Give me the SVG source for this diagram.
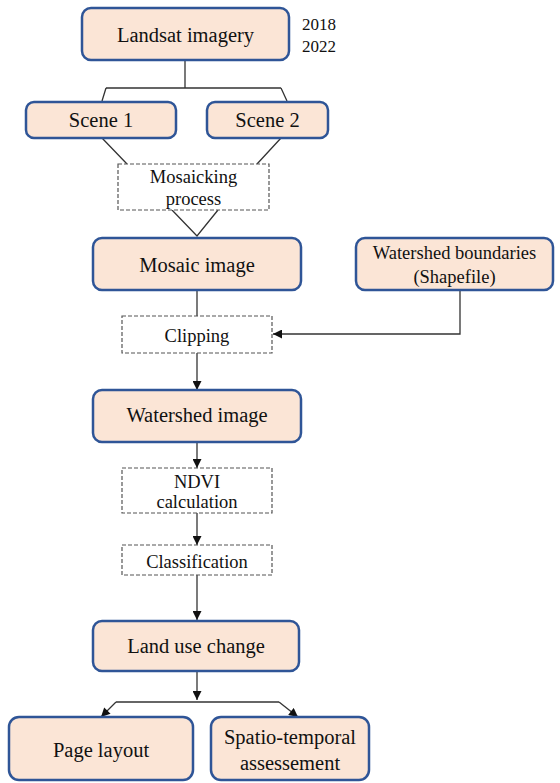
<svg xmlns="http://www.w3.org/2000/svg" width="560" height="783" viewBox="0 0 560 783">
<style>
.box{fill:#FBE5D6;stroke:#2F5597;stroke-width:2.5}
.dash{fill:#FFFFFF;stroke:#555555;stroke-width:1.2;stroke-dasharray:4 2}
text{font-family:"Liberation Serif","Times New Roman",serif;fill:#111111;text-anchor:middle}
.t{font-size:20.5px}
.s{font-size:18.5px}
.y{font-size:17px;text-anchor:start}
.ln{fill:none;stroke:#333333;stroke-width:1.3}
</style>
<defs>
<marker id="ah" viewBox="0 0 10 10" refX="10" refY="5" markerWidth="10" markerHeight="9" markerUnits="userSpaceOnUse" orient="auto">
<path d="M0,0 L10,5 L0,10 z" fill="#111111"/>
</marker>
</defs>
<rect width="560" height="783" fill="#FFFFFF"/>
<g id="connectors">
<path class="ln" d="M185,60 V88 M106,88 H281 M106,88 L102,101 M281,88 L287,101"/>
<path class="ln" d="M102,138 L127,164 M281,138 L257,164"/>
<path class="ln" d="M172,210 L197,236 L218,210"/>
<path class="ln" d="M197,290 V316"/>
<path class="ln" d="M460,290 V334 H273" marker-end="url(#ah)"/>
<path class="ln" d="M197,353 V390" marker-end="url(#ah)"/>
<path class="ln" d="M197,442 V468" marker-end="url(#ah)"/>
<path class="ln" d="M197,513 V545" marker-end="url(#ah)"/>
<path class="ln" d="M197,575 V620" marker-end="url(#ah)"/>
<path class="ln" d="M197,671 V700" marker-end="url(#ah)"/>
<path class="ln" d="M116,702 H279"/>
<path class="ln" d="M116,702 L101,717" marker-end="url(#ah)"/>
<path class="ln" d="M279,702 L298,717" marker-end="url(#ah)"/>
</g>
<g id="landsat">
<rect class="box" x="82" y="8" width="207" height="52" rx="9"/>
<text class="t" x="185.5" y="42">Landsat imagery</text>
</g>
<g id="years">
<text class="y" x="302" y="30">2018</text>
<text class="y" x="302" y="52">2022</text>
</g>
<g id="scene1">
<rect class="box" x="26" y="102" width="150" height="36" rx="8"/>
<text class="t" x="101" y="127">Scene 1</text>
</g>
<g id="scene2">
<rect class="box" x="207" y="102" width="121" height="36" rx="8"/>
<text class="t" x="267.5" y="127">Scene 2</text>
</g>
<g id="mosaicking">
<rect class="dash" x="118" y="164" width="151" height="46"/>
<text class="s" x="193.5" y="183">Mosaicking</text>
<text class="s" x="193.5" y="205">process</text>
</g>
<g id="mosaic">
<rect class="box" x="93" y="238" width="208" height="52" rx="9"/>
<text class="t" x="197" y="272">Mosaic image</text>
</g>
<g id="watershed-boundaries">
<rect class="box" x="356" y="238" width="197" height="52" rx="9"/>
<text class="s" x="454.5" y="259">Watershed boundaries</text>
<text class="s" x="454.5" y="283">(Shapefile)</text>
</g>
<g id="clipping">
<rect class="dash" x="122" y="316" width="150" height="37"/>
<text class="s" x="197" y="342">Clipping</text>
</g>
<g id="watershed-image">
<rect class="box" x="93" y="390" width="208" height="52" rx="9"/>
<text class="t" x="197" y="422">Watershed image</text>
</g>
<g id="ndvi">
<rect class="dash" x="122" y="468" width="150" height="45"/>
<text class="s" x="197" y="488">NDVI</text>
<text class="s" x="197" y="508">calculation</text>
</g>
<g id="classification">
<rect class="dash" x="122" y="545" width="150" height="30"/>
<text class="s" x="197" y="568">Classification</text>
</g>
<g id="landuse">
<rect class="box" x="93" y="621" width="206" height="50" rx="9"/>
<text class="t" x="196" y="653">Land use change</text>
</g>
<g id="page-layout">
<rect class="box" x="9" y="717" width="184" height="63" rx="10"/>
<text class="t" x="101" y="757">Page layout</text>
</g>
<g id="spatio">
<rect class="box" x="211" y="717" width="158" height="63" rx="10"/>
<text class="t" x="290" y="744">Spatio-temporal</text>
<text class="t" x="290" y="770">assessement</text>
</g>
</svg>
